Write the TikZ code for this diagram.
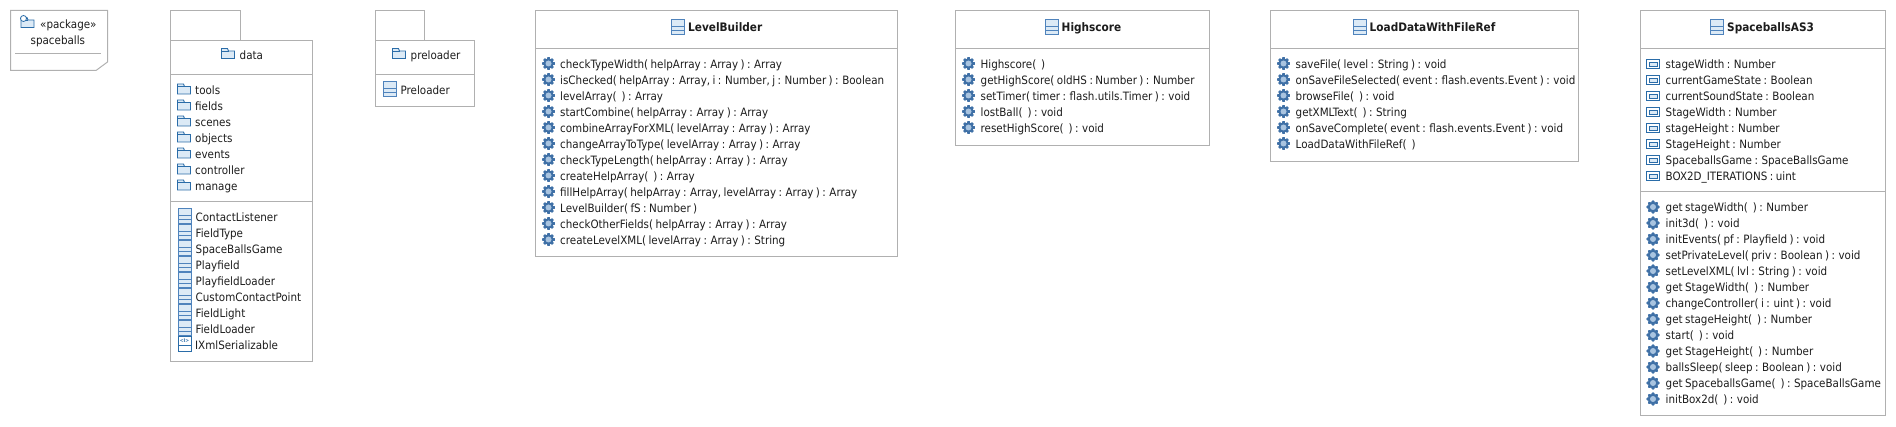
\documentclass[tikz,border=0pt]{standalone}
\usepackage{fontspec}
\setmainfont[WordSpace=0.75]{DejaVu Sans Condensed}
\definecolor{boxgray}{HTML}{B0B0B0}
\definecolor{iconblue}{HTML}{2A6CA8}
\definecolor{classblue}{HTML}{4F83BC}
\definecolor{iconfill}{HTML}{DCEAF6}
\definecolor{gearblue}{HTML}{3F70A6}
\definecolor{gearfill}{HTML}{A9C4E0}
\definecolor{inktext}{HTML}{1C1C1C}
\tikzset{
  umlbox/.style={draw=boxgray,line width=1pt},
  member/.style={anchor=west,inner sep=0pt,text height=9pt,text depth=0pt,text=inktext,font=\fontsize{11.5}{13}\selectfont},
  titletext/.style={anchor=west,inner sep=0pt,text height=8pt,text depth=0pt,text=inktext,font=\fontsize{11.7}{13}\selectfont\bfseries},
  pics/foldericon/.style={code={
    \draw[iconblue,fill=iconfill,line width=.9pt] (-6.5,4.5)--(-6.5,-5.5)--(-.5,-5.5)--(.5,-3)--(6.5,-3)--(6.5,4.5)--cycle;
    \draw[iconblue,line width=.7pt] (-6.5,-3)--(.5,-3);
  }},
  pics/classicon/.style={code={
    \draw[classblue,fill=iconfill,line width=.9pt] (-6.5,-7.5) rectangle (6.5,7.5);
    \draw[classblue,line width=.8pt] (-6.5,-.5)--(6.5,-.5) (-6.5,3.5)--(6.5,3.5);
  }},
  pics/fieldicon/.style={code={
    \draw[iconblue,fill=white,line width=.9pt] (-6.5,-4.5) rectangle (6.5,4.5);
    \draw[iconblue,fill=iconfill,line width=.7pt] (-4,-2) rectangle (4,2);
  }},
  pics/gearicon/.style={code={
    \foreach \a in {0,45,...,315}
      \fill[gearblue,rotate=\a,rounded corners=.6pt] (-1.3,-6.3) rectangle (1.3,6.3);
    \fill[gearblue] (0,0) circle (5.3);
    \fill[gearfill] (0,0) circle (3);
  }},
  pics/ifaceicon/.style={code={
    \draw[iconblue,fill=white,line width=.9pt] (-6.5,-7.5) rectangle (6.5,7.5);
    \draw[iconblue,line width=.8pt] (-6.5,1.5)--(6.5,1.5);
    \node[inner sep=0pt,text=iconblue,font=\fontsize{5}{5}\selectfont\bfseries] (-tag) at (0,-3) {<I>};
  }}
}
\begin{document}
\begin{tikzpicture}[x=1pt,y=-1pt,line join=miter]
\useasboundingbox (0,0) rectangle (1896,427);

% package note
\draw[umlbox] (10.5,10.5)--(107.5,10.5)--(107.5,62)--(96,70.5)--(10.5,70.5)--cycle;
\draw[boxgray,line width=.8pt] (15,53.5)--(100.5,53.5);
\pic at (27.5,23) {foldericon};
\draw[iconblue,fill=white,line width=.8pt] (23.5,18.5) circle (3);
\node[member] (stereo) at (40,24) {«package»};
\node[member] (spaceballs) at (30.5,40) {spaceballs};

% data
\draw[umlbox] (170.5,40.5)--(170.5,10.5)--(240.5,10.5)--(240.5,40.5);
\draw[umlbox] (170.5,40.5) rectangle (312.5,362);
\draw[umlbox] (170.5,74.5)--(312.5,74.5) (170.5,201.5)--(312.5,201.5);
\pic at (228,54) {foldericon};
\node[member] (data) at (239.5,55) {data};
\foreach \pkg [count=\i from 0] in {tools,fields,scenes,objects,events,controller,manage}{
  \pic at (184,{89.5+16*\i}) {foldericon};
  \node[member] (pkg\i) at (195,{90+16*\i}) {\pkg};
}
\foreach \cls [count=\i from 0] in {ContactListener,FieldType,SpaceBallsGame,Playfield,PlayfieldLoader,CustomContactPoint,FieldLight,FieldLoader}{
  \pic at (184.5,{215.5+16*\i}) {classicon};
  \node[member] (cls\i) at (195.5,{217+16*\i}) {\cls};
}
\pic at (184.5,343.5) {ifaceicon};
\node[member] (cls8) at (195,345) {IXmlSerializable};

% preloader
\draw[umlbox] (375.5,40.5)--(375.5,10.5)--(424.5,10.5)--(424.5,40.5);
\draw[umlbox] (375.5,40.5) rectangle (474.5,107);
\draw[umlbox] (375.5,74.5)--(474.5,74.5);
\pic at (399,54) {foldericon};
\node[member] (preloader) at (410.5,55) {preloader};
\pic at (389.5,88.5) {classicon};
\node[member] (Preloader) at (400.5,90) {Preloader};

% LevelBuilder
\draw[umlbox] (535.5,10.5) rectangle (897.5,257);
\draw[umlbox] (535.5,48.5)--(897.5,48.5);
\pic at (678,26.5) {classicon};
\node[titletext] (levelbuilder) at (688,27.5) {LevelBuilder};
\foreach \txt [count=\i from 0] in {
  {checkTypeWidth( helpArray : Array ) : Array},
  {isChecked( helpArray : Array, i : Number, j : Number ) : Boolean},
  {levelArray( \ ) : Array},
  {startCombine( helpArray : Array ) : Array},
  {combineArrayForXML( levelArray : Array ) : Array},
  {changeArrayToType( levelArray : Array ) : Array},
  {checkTypeLength( helpArray : Array ) : Array},
  {createHelpArray( \ ) : Array},
  {fillHelpArray( helpArray : Array, levelArray : Array ) : Array},
  {LevelBuilder( fS : Number )},
  {checkOtherFields( helpArray : Array ) : Array},
  {createLevelXML( levelArray : Array ) : String}}{
  \pic at (548.5,{63.5+16*\i}) {gearicon};
  \node[member] (lb\i) at (560,{64+16*\i}) {\txt};
}

% Highscore
\draw[umlbox] (955.5,10.5) rectangle (1209.5,145.5);
\draw[umlbox] (955.5,48.5)--(1209.5,48.5);
\pic at (1051.5,26.5) {classicon};
\node[titletext] (highscore) at (1061.5,27.5) {Highscore};
\foreach \txt [count=\i from 0] in {
  {Highscore( \ )},
  {getHighScore( oldHS : Number ) : Number},
  {setTimer( timer : flash.utils.Timer ) : void},
  {lostBall( \ ) : void},
  {resetHighScore( \ ) : void}}{
  \pic at (968.5,{63.5+16*\i}) {gearicon};
  \node[member] (hs\i) at (980.5,{64+16*\i}) {\txt};
}

% LoadDataWithFileRef
\draw[umlbox] (1270.5,10.5) rectangle (1578.5,161.5);
\draw[umlbox] (1270.5,48.5)--(1578.5,48.5);
\pic at (1359.5,26.5) {classicon};
\node[titletext] (loaddata) at (1369.5,27.5) {LoadDataWithFileRef};
\foreach \txt [count=\i from 0] in {
  {saveFile( level : String ) : void},
  {onSaveFileSelected( event : flash.events.Event ) : void},
  {browseFile( \ ) : void},
  {getXMLText( \ ) : String},
  {onSaveComplete( event : flash.events.Event ) : void},
  {LoadDataWithFileRef( \ )}}{
  \pic at (1283.5,{63.5+16*\i}) {gearicon};
  \node[member] (ld\i) at (1295.5,{64+16*\i}) {\txt};
}

% SpaceballsAS3
\draw[umlbox] (1640.5,10.5) rectangle (1885.5,416);
\draw[umlbox] (1640.5,48.5)--(1885.5,48.5) (1640.5,191.5)--(1885.5,191.5);
\pic at (1717,26.5) {classicon};
\node[titletext] (spaceballsas) at (1727,27.5) {SpaceballsAS3};
\foreach \txt [count=\i from 0] in {
  {stageWidth : Number},
  {currentGameState : Boolean},
  {currentSoundState : Boolean},
  {StageWidth : Number},
  {stageHeight : Number},
  {StageHeight : Number},
  {SpaceballsGame : SpaceBallsGame},
  {BOX2D\_ITERATIONS : uint}}{
  \pic at (1653,{64+16*\i}) {fieldicon};
  \node[member] (attr\i) at (1665.5,{64+16*\i}) {\txt};
}
\foreach \txt [count=\i from 0] in {
  {get stageWidth( \ ) : Number},
  {init3d( \ ) : void},
  {initEvents( pf : Playfield ) : void},
  {setPrivateLevel( priv : Boolean ) : void},
  {setLevelXML( lvl : String ) : void},
  {get StageWidth( \ ) : Number},
  {changeController( i : uint ) : void},
  {get stageHeight( \ ) : Number},
  {start( \ ) : void},
  {get StageHeight( \ ) : Number},
  {ballsSleep( sleep : Boolean ) : void},
  {get SpaceballsGame( \ ) : SpaceBallsGame},
  {initBox2d( \ ) : void}}{
  \pic at (1653,{207+16*\i}) {gearicon};
  \node[member] (op\i) at (1665.5,{207+16*\i}) {\txt};
}
\end{tikzpicture}
\end{document}
